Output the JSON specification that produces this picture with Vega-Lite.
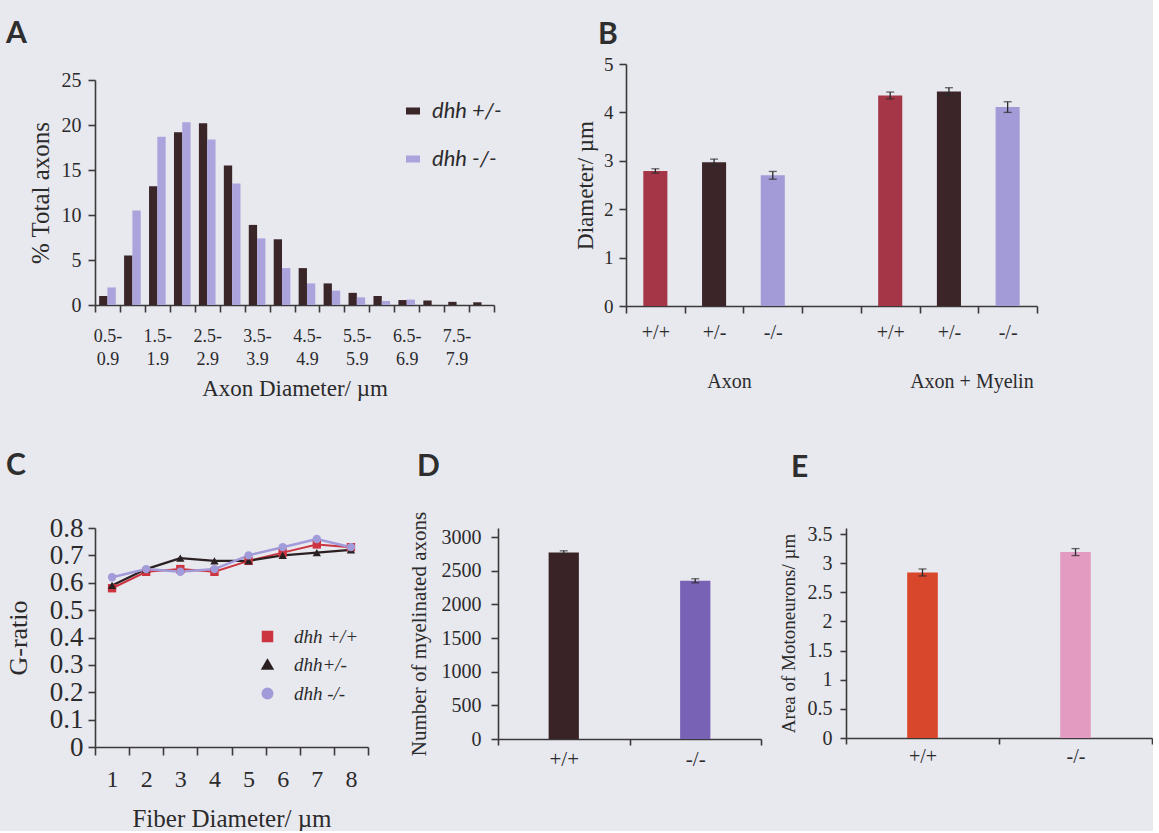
{
  "$schema": "https://vega.github.io/schema/vega-lite/v6.json",
  "background": "#e8e8ef",
  "padding": {"left": 5, "top": 19, "right": 0, "bottom": 0},
  "config": {
    "view": {"stroke": null},
    "font": "Liberation Serif",
    "axis": {"labelFont": "Liberation Serif", "titleFont": "Liberation Serif", "titleFontWeight": "normal", "labelColor": "#2b2b2b", "titleColor": "#2b2b2b", "domainColor": "#3a3a3a", "tickColor": "#3a3a3a", "domainWidth": 1.6, "tickWidth": 1.6, "tickSize": 7, "grid": false, "labelAngle": 0},
    "title": {"font": "Lato", "fontSize": 30, "fontWeight": "bold", "color": "#2e2e2e", "anchor": "start", "frame": "group", "baseline": "alphabetic"},
    "legend": {"padding": 0}
  },
  "datasets": {
    "hist": [
      {"bin": "0.5-0.9", "genotype": "dhh +/-", "pct": 1.0},
      {"bin": "1.0-1.4", "genotype": "dhh +/-", "pct": 5.5},
      {"bin": "1.5-1.9", "genotype": "dhh +/-", "pct": 13.2},
      {"bin": "2.0-2.4", "genotype": "dhh +/-", "pct": 19.2},
      {"bin": "2.5-2.9", "genotype": "dhh +/-", "pct": 20.2},
      {"bin": "3.0-3.4", "genotype": "dhh +/-", "pct": 15.5},
      {"bin": "3.5-3.9", "genotype": "dhh +/-", "pct": 8.9},
      {"bin": "4.0-4.4", "genotype": "dhh +/-", "pct": 7.3},
      {"bin": "4.5-4.9", "genotype": "dhh +/-", "pct": 4.1},
      {"bin": "5.0-5.4", "genotype": "dhh +/-", "pct": 2.4},
      {"bin": "5.5-5.9", "genotype": "dhh +/-", "pct": 1.35},
      {"bin": "6.0-6.4", "genotype": "dhh +/-", "pct": 1.0},
      {"bin": "6.5-6.9", "genotype": "dhh +/-", "pct": 0.55},
      {"bin": "7.0-7.4", "genotype": "dhh +/-", "pct": 0.5},
      {"bin": "7.5-7.9", "genotype": "dhh +/-", "pct": 0.35},
      {"bin": "8.0-8.4", "genotype": "dhh +/-", "pct": 0.3},
      {"bin": "0.5-0.9", "genotype": "dhh -/-", "pct": 1.95},
      {"bin": "1.0-1.4", "genotype": "dhh -/-", "pct": 10.5},
      {"bin": "1.5-1.9", "genotype": "dhh -/-", "pct": 18.7},
      {"bin": "2.0-2.4", "genotype": "dhh -/-", "pct": 20.3},
      {"bin": "2.5-2.9", "genotype": "dhh -/-", "pct": 18.4},
      {"bin": "3.0-3.4", "genotype": "dhh -/-", "pct": 13.5},
      {"bin": "3.5-3.9", "genotype": "dhh -/-", "pct": 7.4},
      {"bin": "4.0-4.4", "genotype": "dhh -/-", "pct": 4.1},
      {"bin": "4.5-4.9", "genotype": "dhh -/-", "pct": 2.4},
      {"bin": "5.0-5.4", "genotype": "dhh -/-", "pct": 1.6},
      {"bin": "5.5-5.9", "genotype": "dhh -/-", "pct": 0.85},
      {"bin": "6.0-6.4", "genotype": "dhh -/-", "pct": 0.45},
      {"bin": "6.5-6.9", "genotype": "dhh -/-", "pct": 0.6}
    ],
    "diam": [
      {"key": "Axon|+/+", "group": "Axon", "genotype": "+/+", "mean": 2.79, "sem": 0.045},
      {"key": "Axon|+/-", "group": "Axon", "genotype": "+/-", "mean": 2.97, "sem": 0.065},
      {"key": "Axon|-/-", "group": "Axon", "genotype": "-/-", "mean": 2.70, "sem": 0.08},
      {"key": "Myelin|+/+", "group": "Axon + Myelin", "genotype": "+/+", "mean": 4.35, "sem": 0.07},
      {"key": "Myelin|+/-", "group": "Axon + Myelin", "genotype": "+/-", "mean": 4.43, "sem": 0.08},
      {"key": "Myelin|-/-", "group": "Axon + Myelin", "genotype": "-/-", "mean": 4.11, "sem": 0.11}
    ],
    "gratio": [
      {"fiber": 1, "series": "dhh +/+", "g": 0.58},
      {"fiber": 2, "series": "dhh +/+", "g": 0.64},
      {"fiber": 3, "series": "dhh +/+", "g": 0.65},
      {"fiber": 4, "series": "dhh +/+", "g": 0.64},
      {"fiber": 5, "series": "dhh +/+", "g": 0.68},
      {"fiber": 6, "series": "dhh +/+", "g": 0.71},
      {"fiber": 7, "series": "dhh +/+", "g": 0.74},
      {"fiber": 8, "series": "dhh +/+", "g": 0.73},
      {"fiber": 1, "series": "dhh+/-", "g": 0.59},
      {"fiber": 2, "series": "dhh+/-", "g": 0.65},
      {"fiber": 3, "series": "dhh+/-", "g": 0.69},
      {"fiber": 4, "series": "dhh+/-", "g": 0.68},
      {"fiber": 5, "series": "dhh+/-", "g": 0.68},
      {"fiber": 6, "series": "dhh+/-", "g": 0.70},
      {"fiber": 7, "series": "dhh+/-", "g": 0.71},
      {"fiber": 8, "series": "dhh+/-", "g": 0.72},
      {"fiber": 1, "series": "dhh -/-", "g": 0.62},
      {"fiber": 2, "series": "dhh -/-", "g": 0.65},
      {"fiber": 3, "series": "dhh -/-", "g": 0.64},
      {"fiber": 4, "series": "dhh -/-", "g": 0.65},
      {"fiber": 5, "series": "dhh -/-", "g": 0.70},
      {"fiber": 6, "series": "dhh -/-", "g": 0.73},
      {"fiber": 7, "series": "dhh -/-", "g": 0.76},
      {"fiber": 8, "series": "dhh -/-", "g": 0.73}
    ],
    "count": [
      {"genotype": "+/+", "axons": 2770, "sem": 25},
      {"genotype": "-/-", "axons": 2350, "sem": 30}
    ],
    "area": [
      {"genotype": "+/+", "area": 2.84, "sem": 0.06},
      {"genotype": "-/-", "area": 3.19, "sem": 0.06}
    ]
  },
  "spacing": 51,
  "resolve": {"scale": {"color": "independent", "shape": "independent", "strokeWidth": "independent"}},
  "vconcat": [
    {
      "spacing": 72,
      "resolve": {"scale": {"color": "independent", "shape": "independent", "strokeWidth": "independent"}},
      "hconcat": [
        {
          "title": {"text": "A", "dx": -89, "offset": 15},
          "spacing": 0,
          "resolve": {"scale": {"color": "independent"}},
          "vconcat": [
            {"width": 399, "height": 6, "data": {"values": []}, "mark": "point"},
            {
              "width": 399,
              "height": 225,
              "data": {"name": "hist"},
              "mark": {"type": "bar"},
              "encoding": {
                "x": {
                  "field": "bin", "type": "ordinal",
                  "scale": {"domain": ["0.5-0.9","1.0-1.4","1.5-1.9","2.0-2.4","2.5-2.9","3.0-3.4","3.5-3.9","4.0-4.4","4.5-4.9","5.0-5.4","5.5-5.9","6.0-6.4","6.5-6.9","7.0-7.4","7.5-7.9","8.0-8.4"], "paddingInner": 0, "paddingOuter": 0},
                  "axis": {"tickBand": "extent", "labelExpr": "substring(datum.value,2,3) == '5' ? [substring(datum.value,0,4), substring(datum.value,4)] : ''", "labelOverlap": false, "labelFontSize": 18, "labelLineHeight": 23, "labelPadding": 15, "title": "Axon Diameter/ µm", "titleFontSize": 23, "titlePadding": 9}
                },
                "xOffset": {"field": "genotype", "type": "nominal", "scale": {"domain": ["dhh +/-", "dhh -/-"], "paddingInner": 0, "paddingOuter": 0.5}},
                "y": {
                  "field": "pct", "type": "quantitative",
                  "scale": {"domain": [0, 25], "nice": false},
                  "axis": {"values": [0, 5, 10, 15, 20, 25], "title": "% Total axons", "titleFontSize": 25, "labelFontSize": 20, "labelPadding": 7, "titlePadding": 8}
                },
                "color": {
                  "field": "genotype", "type": "nominal",
                  "scale": {"domain": ["dhh +/-", "dhh -/-"], "range": ["#3a2528", "#aaa3dc"]},
                  "legend": {"orient": "none", "legendX": 307, "legendY": 20, "title": null, "symbolType": "M-1,-0.5H1V0.5H-1Z", "symbolSize": 196, "symbolStrokeWidth": 0, "labelFont": "Lato", "labelFontStyle": "italic", "labelFontSize": 22, "labelColor": "#2b2b2b", "labelOffset": 8, "rowPadding": 26}
                }
              }
            }
          ]
        },
        {
          "width": 411,
          "height": 242,
          "title": {"text": "B", "dx": -28, "offset": 5},
          "data": {"name": "diam"},
          "encoding": {
            "x": {
              "field": "key", "type": "ordinal",
              "scale": {"domain": ["Axon|+/+", "Axon|+/-", "Axon|-/-", "gap", "Myelin|+/+", "Myelin|+/-", "Myelin|-/-"], "paddingInner": 0, "paddingOuter": 0},
              "axis": {"tickBand": "extent", "labelExpr": "datum.value == 'gap' ? '' : datum.value == 'Axon|+/-' ? ['+/-', '\u200b\u00a0\u00a0\u00a0\u00a0\u00a0\u00a0Axon'] : datum.value == 'Myelin|+/-' ? ['+/-', '\u200b\u00a0\u00a0\u00a0\u00a0\u00a0\u00a0\u00a0\u00a0\u00a0Axon + Myelin'] : split(datum.value, '|')[1]", "labelOverlap": false, "labelFontSize": 20, "labelLineHeight": 49, "labelPadding": 9, "title": null}
            },
            "y": {"field": "mean", "type": "quantitative", "scale": {"domain": [0, 5], "nice": false}, "axis": {"values": [0, 1, 2, 3, 4, 5], "title": "Diameter/ µm", "titleFontSize": 23, "labelFontSize": 19, "labelPadding": 6, "titlePadding": 6}}
          },
          "layer": [
            {
              "mark": {"type": "bar", "width": {"band": 0.41}},
              "encoding": {
                "color": {"field": "genotype", "type": "nominal", "scale": {"domain": ["+/+", "+/-", "-/-"], "range": ["#a53648", "#3b2528", "#a39ad8"]}, "legend": null}
              }
            },
            {
              "mark": {"type": "errorbar", "ticks": {"size": 8}, "thickness": 1.3, "color": "#2a2a2a"},
              "encoding": {"yError": {"field": "sem"}}
            }
          ]
        }
      ]
    },
    {
      "spacing": 17,
      "resolve": {"scale": {"color": "independent", "shape": "independent", "strokeWidth": "independent"}},
      "hconcat": [
        {
          "spacing": 38,
          "resolve": {"scale": {"color": "independent", "shape": "independent", "strokeWidth": "independent"}},
          "hconcat": [
            {
              "width": 273,
              "height": 219,
              "title": {"text": "C", "dx": -89, "offset": 33},
              "data": {"name": "gratio"},
              "encoding": {
                "x": {"field": "fiber", "type": "ordinal", "scale": {"paddingInner": 0, "paddingOuter": 0}, "axis": {"tickBand": "extent", "tickSize": 8, "labelFontSize": 24, "labelPadding": 12, "title": "Fiber Diameter/ µm", "titleFontSize": 25, "titlePadding": 15}},
                "y": {"field": "g", "type": "quantitative", "scale": {"domain": [0, 0.8], "nice": false}, "axis": {"values": [0, 0.1, 0.2, 0.3, 0.4, 0.5, 0.6, 0.7, 0.8], "format": "~g", "title": "G-ratio", "titleFontSize": 26, "labelFontSize": 27, "labelPadding": 5, "titlePadding": 18}}
              },
              "layer": [
                {
                  "mark": {"type": "line"},
                  "encoding": {
                    "color": {"field": "series", "type": "nominal", "scale": {"domain": ["dhh +/+", "dhh+/-", "dhh -/-"], "range": ["#cc3540", "#2a2022", "#a29bd9"]}},
                    "strokeWidth": {"field": "series", "type": "nominal", "scale": {"domain": ["dhh +/+", "dhh+/-", "dhh -/-"], "range": [2, 2.5, 1.2]}, "legend": null}
                  }
                },
                {
                  "mark": {"type": "point", "filled": true, "opacity": 1, "size": 70},
                  "encoding": {
                    "color": {"field": "series", "type": "nominal",
                      "legend": {"orient": "none", "legendX": 163, "legendY": 99, "title": null, "symbolSize": 90, "labelFont": "Liberation Serif", "labelFontStyle": "italic", "labelFontSize": 19, "labelColor": "#2b2b2b", "labelOffset": 17, "rowPadding": 8}
                    },
                    "shape": {"field": "series", "type": "nominal", "scale": {"domain": ["dhh +/+", "dhh+/-", "dhh -/-"], "range": ["square", "triangle-up", "circle"]},
                      "legend": {"orient": "none", "legendX": 163, "legendY": 99, "title": null, "symbolSize": 90, "labelFont": "Liberation Serif", "labelFontStyle": "italic", "labelFontSize": 19, "labelColor": "#2b2b2b", "labelOffset": 17, "rowPadding": 8}
                    }
                  }
                }
              ]
            },
            {
              "width": 263,
              "height": 211,
              "title": {"text": "D", "dx": -81, "offset": 29},
              "data": {"name": "count"},
              "encoding": {
                "x": {"field": "genotype", "type": "ordinal", "scale": {"domain": ["+/+", "-/-"], "paddingInner": 0, "paddingOuter": 0}, "axis": {"tickBand": "extent", "tickSize": 6, "labelFontSize": 21, "labelPadding": 3, "title": null}},
                "y": {"field": "axons", "type": "quantitative", "scale": {"domain": [0, 3134], "nice": false}, "axis": {"values": [0, 500, 1000, 1500, 2000, 2500, 3000], "format": "d", "tickSize": 7, "title": "Number of myelinated axons", "titleFontSize": 21, "labelFontSize": 20, "labelPadding": 10, "titlePadding": 12}}
              },
              "layer": [
                {
                  "mark": {"type": "bar", "width": {"band": 0.23}},
                  "encoding": {
                    "color": {"field": "genotype", "type": "nominal", "scale": {"domain": ["+/+", "-/-"], "range": ["#3a2326", "#7862b5"]}, "legend": null}
                  }
                },
                {
                  "mark": {"type": "errorbar", "ticks": {"size": 8}, "thickness": 1.3, "color": "#2a2a2a"},
                  "encoding": {"yError": {"field": "sem"}}
                }
              ]
            }
          ]
        },
        {
          "width": 306,
          "height": 210,
          "title": {"text": "E", "dx": -55, "offset": 41},
          "data": {"name": "area"},
          "encoding": {
            "x": {"field": "genotype", "type": "ordinal", "scale": {"domain": ["+/+", "-/-"], "paddingInner": 0, "paddingOuter": 0}, "axis": {"tickBand": "extent", "tickSize": 6, "labelFontSize": 20, "labelPadding": 2, "title": null}},
            "y": {"field": "area", "type": "quantitative", "scale": {"domain": [0, 3.603], "nice": false}, "axis": {"values": [0, 0.5, 1, 1.5, 2, 2.5, 3, 3.5], "format": "~g", "tickSize": 6, "title": "Area of Motoneurons/ µm", "titleFontSize": 19, "labelFontSize": 20, "labelPadding": 8, "titlePadding": 9}}
          },
          "layer": [
            {
              "mark": {"type": "bar", "width": {"band": 0.2}},
              "encoding": {
                "color": {"field": "genotype", "type": "nominal", "scale": {"domain": ["+/+", "-/-"], "range": ["#d8462c", "#e39bc2"]}, "legend": null}
              }
            },
            {
              "mark": {"type": "errorbar", "ticks": {"size": 8}, "thickness": 1.3, "color": "#2a2a2a"},
              "encoding": {"yError": {"field": "sem"}}
            }
          ]
        }
      ]
    }
  ]
}
